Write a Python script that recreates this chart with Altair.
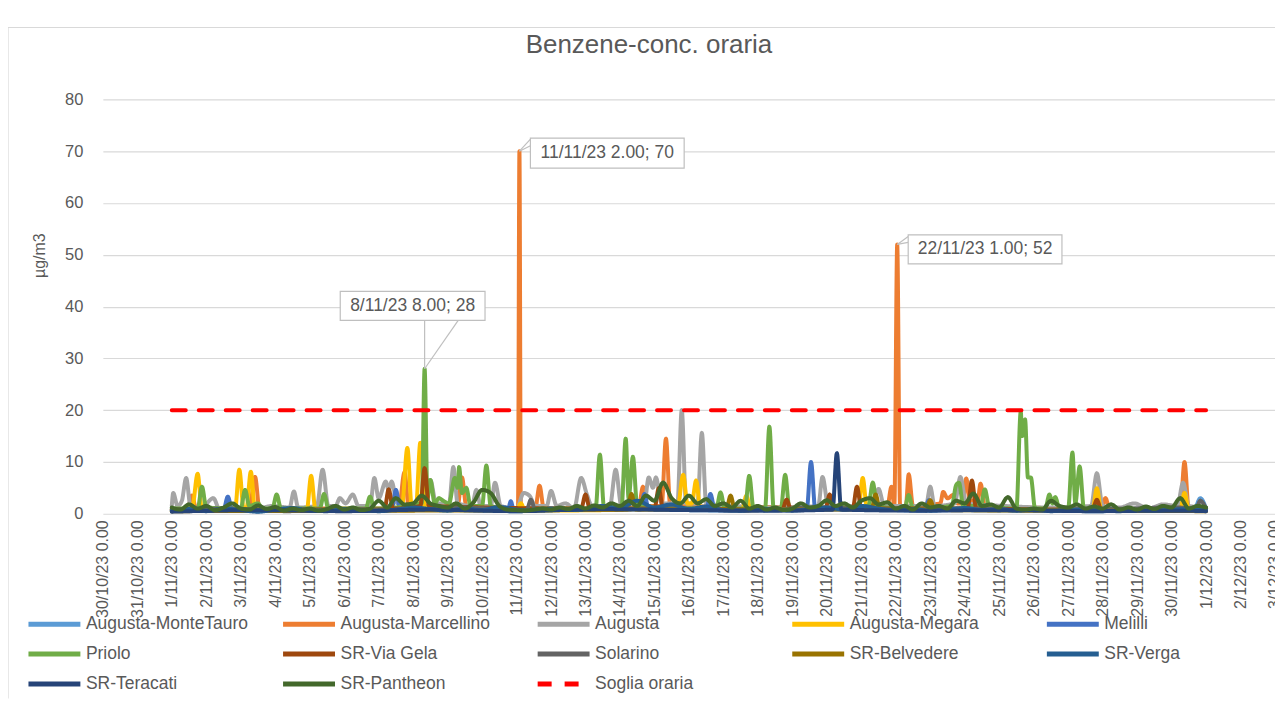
import altair as alt
import pandas as pd

FONT = "Liberation Sans"
GREY_TXT = "#595959"

BASE = pd.Timestamp("2023-11-01 00:00")

chart_title = "Benzene-conc. oraria"
series_names = [
    "Augusta-MonteTauro", "Augusta-Marcellino", "Augusta", "Augusta-Megara", "Melilli",
    "Priolo", "SR-Via Gela", "Solarino", "SR-Belvedere", "SR-Verga",
    "SR-Teracati", "SR-Pantheon",
]
series_colors = [
    "#5B9BD5", "#ED7D31", "#A5A5A5", "#FFC000", "#4472C4",
    "#70AD47", "#9E480E", "#636363", "#997300", "#255E91",
    "#264478", "#43682B",
]
threshold_name = "Soglia oraria"
threshold_color = "#FF0000"
threshold_value = 20
threshold_hours = [0, 720]

# (hour from 1/11/23 0.00, µg/m3)
monte_tauro = [(0, 0.6), (30, 0.9), (60, 0.5), (96, 0.8), (130, 0.6), (170, 1.0), (200, 0.7),
               (240, 0.5), (280, 0.8), (320, 0.9), (360, 0.7), (400, 0.6), (440, 0.8), (480, 0.9),
               (520, 0.6), (560, 0.8), (600, 0.7), (640, 0.5), (680, 0.6), (705, 0.8), (712, 1.0),
               (716, 3.0), (720, 1.0)]
marcellino = [(0, 0.8), (11, 0.9), (14, 3.5), (17, 1), (54, 1), (58, 7.1), (61, 1), (158, 1),
              (162, 8), (165, 1.2), (199, 1.5), (202, 7), (205, 1.5), (241, 1), (242, 70), (243, 1.2),
              (253, 1), (256, 5.4), (259, 1), (325, 1.2), (328, 5.2), (331, 1.5), (341, 1.5),
              (344, 14.5), (347, 1.5), (498, 1.2), (501, 5.2), (503, 1.5), (505, 52), (507, 1.5),
              (511, 1.5), (513, 7.6), (516, 1.5), (535, 2), (537, 4.2), (540, 3), (544, 3.6),
              (547, 2), (551, 2), (553, 6.8), (556, 2.5), (561, 2.5), (563, 5.8), (566, 1.5),
              (647, 1), (650, 3), (653, 0.8), (702, 0.8), (705, 10), (708, 0.8), (720, 0.8)]
augusta = [(0, 1.5), (1, 4), (4, 1.5), (7, 2.5), (10, 6.9), (13, 1.5), (20, 1), (29, 3), (33, 1),
           (50, 1.2), (60, 1), (70, 1.5), (82, 1.2), (85, 4.3), (88, 1.2), (101, 1.5), (105, 8.5),
           (109, 1.5), (114, 1.5), (117, 3), (121, 2), (126, 3.7), (130, 1.5), (138, 1.5),
           (141, 6.9), (144, 3), (149, 6.2), (151, 4.5), (153, 6.2), (157, 2), (170, 1.5),
           (180, 6.5), (184, 2), (193, 2), (196, 9), (199, 2), (209, 1.5), (212, 4.6), (215, 1.5),
           (222, 1.5), (225, 6), (229, 1.5), (240, 1), (245, 4), (249, 3.5), (253, 1.5),
           (261, 1.5), (264, 4.4), (268, 1.5), (274, 2), (280, 1), (285, 6.9), (289, 3.7),
           (293, 1.2), (305, 1.5), (309, 8.5), (313, 1.5), (329, 2), (332, 7), (335, 5), (337, 7),
           (341, 2), (352, 2), (355, 20), (358, 2), (366, 2), (369, 15.6), (372, 2), (390, 1.5),
           (420, 1.2), (450, 1.5), (453, 7.1), (457, 1.5), (488, 1.5), (492, 4.8), (496, 1.5),
           (525, 1.5), (528, 5.2), (531, 1.5), (545, 2), (549, 7.1), (553, 2), (580, 1.5),
           (610, 1.2), (640, 1.5), (644, 7.8), (648, 1.5), (660, 1.2), (670, 2), (680, 1),
           (690, 1.8), (700, 1.5), (704, 6), (708, 1.5), (720, 1.2)]
megara = [(0, 0.5), (14, 0.8), (18, 7.7), (21, 0.8), (44, 0.8), (47, 8.5), (50, 1), (52, 1),
          (55, 8.1), (58, 0.8), (94, 0.8), (97, 7.3), (100, 0.8), (160, 0.8), (164, 12.7),
          (167, 1.5), (170, 1.5), (173, 13.7), (176, 1.5), (240, 0.6), (243, 2), (246, 0.6),
          (352, 1), (356, 7.5), (359, 2), (362, 2), (365, 6.4), (368, 1), (397, 0.8), (400, 3.5),
          (403, 0.8), (478, 1), (481, 6.9), (484, 1), (600, 0.6), (641, 0.8), (644, 4.9),
          (647, 0.8), (702, 0.8), (705, 4), (708, 0.8), (720, 0.6)]
melilli = [(0, 0.8), (36, 0.8), (39, 3.3), (42, 0.8), (100, 0.6), (153, 0.8), (156, 4.6),
           (159, 0.8), (234, 0.8), (236, 2.4), (238, 0.8), (326, 0.8), (329, 3.8), (332, 0.8),
           (372, 0.8), (375, 3.8), (378, 0.8), (442, 0.8), (445, 10), (448, 0.8), (524, 0.8),
           (527, 2.6), (530, 0.8), (620, 0.6), (720, 0.8)]
priolo = [(0, 1), (18, 1), (21, 5.2), (24, 1.2), (48, 1), (51, 4.6), (54, 1.5), (60, 2), (63, 1),
          (70, 1), (73, 3.7), (76, 1), (103, 1), (106, 3.8), (109, 1), (135, 1), (138, 3.3),
          (141, 1), (174, 2), (176, 28), (178, 3), (180, 6.5), (183, 2), (186, 3), (189, 2.5),
          (193, 2), (197, 6.9), (199, 5), (200, 9), (202, 4), (205, 5), (208, 1.5), (216, 1.5),
          (219, 9.3), (222, 1.5), (240, 0.8), (260, 1), (295, 1), (298, 11.4), (301, 1),
          (313, 1), (316, 14.5), (318, 3), (321, 11), (324, 1.5), (379, 1), (382, 4.1), (385, 1),
          (399, 1), (402, 7.3), (405, 1), (413, 1), (416, 16.8), (419, 1), (424, 1), (427, 7.5),
          (430, 1), (485, 1.5), (488, 6), (491, 1.5), (510, 1), (513, 3.6), (516, 1),
          (543, 1.5), (546, 5.5), (548, 6), (551, 1.5), (563, 1.5), (566, 4.7), (569, 1.5),
          (588, 1), (591, 19.7), (592, 15), (594, 18.2), (596, 7), (598, 7), (601, 1), (608, 1),
          (611, 3.7), (613, 2), (615, 3.2), (618, 1), (624, 1), (627, 11.8), (629, 2),
          (632, 9.1), (635, 1), (660, 0.8), (700, 0.8), (720, 1)]
via_gela = [(0, 0.8), (148, 0.8), (151, 4.7), (154, 1), (173, 1.5), (176, 8.8), (179, 1.5),
            (285, 1), (288, 3.7), (291, 1), (336, 1), (339, 4.9), (342, 1), (425, 0.8),
            (428, 2.7), (431, 0.8), (455, 1), (458, 3.7), (461, 1), (474, 1), (477, 5.2),
            (480, 1), (554, 1), (557, 6.4), (560, 1), (641, 0.8), (644, 2.7), (647, 0.8),
            (720, 0.8)]
solarino = [(0, 0.6), (40, 1), (80, 0.5), (120, 0.9), (160, 0.7), (200, 1.2), (247, 0.7),
            (250, 2.7), (253, 0.7), (300, 0.8), (350, 1), (400, 0.6), (450, 1.2), (500, 0.8),
            (550, 1), (600, 0.7), (650, 0.9), (700, 1.2), (713, 1), (716, 2.5), (720, 1)]
belvedere = [(0, 0.5), (317, 0.8), (320, 3.8), (323, 0.8), (386, 0.8), (389, 3.5), (392, 0.8),
             (487, 0.8), (490, 3.7), (493, 0.8), (525, 0.8), (528, 2.6), (531, 0.8), (720, 0.5)]
teracati = [(0, 0.4), (60, 0.7), (120, 0.5), (180, 0.8), (240, 0.5), (300, 0.9), (360, 0.7),
            (420, 0.6), (460, 0.8), (463, 11.7), (466, 0.8), (520, 0.6), (580, 0.7), (640, 0.5),
            (700, 0.6), (720, 0.5)]
# every 12 hours
verga_12h = [0.6, 0.9, 0.5, 1.0, 0.7, 0.4, 0.8, 1.1, 0.6, 0.5, 0.9, 0.7, 0.5, 0.8, 1.2, 0.9,
             0.6, 1.0, 0.7, 1.3, 0.8, 0.6, 1.0, 0.7, 0.9, 1.5, 1.1, 2.5, 1.2, 1.8, 0.9, 1.4,
             0.7, 0.6, 1.0, 0.8, 0.6, 0.9, 1.2, 0.8, 1.5, 1.0, 0.7, 0.9, 0.6, 0.8, 1.1, 0.7,
             0.9, 0.6, 0.8, 0.5, 0.7, 0.9, 0.6, 0.5, 0.7, 0.6, 0.8, 0.9, 0.7]
# every 6 hours
pantheon_6h = [1.2, 0.8, 1.8, 1.0, 1.5, 0.7, 1.2, 2.0, 1.0, 0.8, 1.6, 0.9, 1.3, 0.6, 1.0, 0.7,
               1.0, 0.6, 0.9, 1.5, 0.8, 1.2, 0.7, 1.0, 2.5, 1.2, 3.0, 1.8, 2.0, 3.5, 2.0, 1.5,
               1.2, 2.0, 1.0, 2.2, 4.6, 4.0, 1.5, 0.8, 0.7, 0.6, 0.8, 1.0, 0.8, 1.2, 0.9, 1.5,
               1.0, 1.6, 1.2, 2.0, 1.5, 2.5, 1.5, 3.5, 2.5, 6.0, 3.0, 2.0, 3.5, 2.0, 2.8, 1.5,
               2.0, 1.2, 2.5, 1.0, 1.5, 0.8, 1.2, 0.7, 1.0, 2.0, 1.2, 1.5, 2.6, 1.5, 2.0, 1.2,
               2.5, 3.0, 1.8, 2.2, 1.0, 1.5, 0.8, 2.0, 1.2, 1.5, 1.0, 2.5, 2.0, 3.9, 1.5, 1.8,
               1.2, 3.2, 1.0, 0.8, 1.0, 0.8, 2.5, 1.5, 1.2, 1.8, 1.0, 1.4, 1.0, 1.8, 0.8, 1.2,
               0.8, 1.4, 0.9, 1.5, 1.2, 3.0, 1.0, 1.5, 1.2]

# callouts
ann_hours = [176, 242, 505]
ann_values = [28, 70, 52]


def ts(h):
    return (BASE + pd.Timedelta(hours=h)).strftime("%Y-%m-%dT%H:%M:%S")


series_points = [
    monte_tauro, marcellino, augusta, megara, melilli, priolo, via_gela, solarino, belvedere,
    [(i * 12, v) for i, v in enumerate(verga_12h)],
    teracati,
    [(i * 6, v) for i, v in enumerate(pantheon_6h)],
]

rows = []
for name, pts in zip(series_names, series_points):
    for h, v in pts:
        rows.append({"t": ts(h), "v": v, "s": name})
for h in threshold_hours:
    rows.append({"t": ts(h), "v": threshold_value, "s": threshold_name})
df = pd.DataFrame(rows)

all_names = series_names + [threshold_name]
all_colors = series_colors + [threshold_color]
all_dash = [[1, 0]] * len(series_names) + [[14, 13]]

x_scale = alt.Scale(domain=[alt.DateTime(year=2023, month=10, date=30),
                            alt.DateTime(year=2023, month=12, date=3)], nice=False)
y_scale = alt.Scale(domain=[0, 80], nice=False)

# legend symbol: a 52px line drawn from a 20px layout box
legend = alt.Legend(
    title=None, orient="none", legendX=-77, legendY=513, direction="horizontal", columns=5,
    symbolType="M-1,0H4.2", symbolSize=400, symbolStrokeWidth=5, labelFontSize=17.5,
    labelFont=FONT, labelColor=GREY_TXT, labelLimit=400, gridAlign="all", columnPadding=24,
    rowPadding=7, labelOffset=35, padding=0,
)

lines = alt.Chart(df).mark_line(
    strokeWidth=4, interpolate="monotone", strokeJoin="round", strokeCap="round"
).encode(
    x=alt.X("t:T", scale=x_scale, axis=alt.Axis(
        title=None, format="%-d/%-m/%y %-H.%M", tickCount={"interval": "day", "step": 1},
        labelAngle=-90, labelFontSize=16, labelFont=FONT, labelColor=GREY_TXT, labelPadding=6,
        ticks=False, domain=False, grid=False, labelOverlap=False, labelBound=False,
        labelFlush=False)),
    y=alt.Y("v:Q", scale=y_scale, axis=alt.Axis(
        values=list(range(0, 81, 10)), title="µg/m3", titleFontSize=16, titleFont=FONT,
        titleColor=GREY_TXT, titleFontWeight="normal", titleX=-63, titleY=156,
        titleAlign="center", titleBaseline="middle", titleAngle=-90,
        labelFontSize=16.5, labelFont=FONT, labelColor=GREY_TXT, labelPadding=20,
        ticks=False, domain=False, grid=True, gridColor="#D9D9D9", gridWidth=1.2)),
    color=alt.Color("s:N", scale=alt.Scale(domain=all_names, range=all_colors), legend=legend),
    strokeDash=alt.StrokeDash("s:N", scale=alt.Scale(domain=all_names, range=all_dash),
                              legend=legend),
)

ann_df = pd.DataFrame({
    "t": [ts(h) for h in ann_hours],
    "v": ann_values,
    "label": [f"{(BASE + pd.Timedelta(hours=h)).day}/{(BASE + pd.Timedelta(hours=h)).month}/"
              f"{(BASE + pd.Timedelta(hours=h)).strftime('%y')} "
              f"{(BASE + pd.Timedelta(hours=h)).hour}.00; {v}"
              for h, v in zip(ann_hours, ann_values)],
    "i": [0, 1, 2],
})

# box offset (dx, dy), box width, box height, pointer end offsets
callout_style = [
    (-12, -63, 145, 29, [(0, -49), (34, -49)]),
    (88, 2, 154, 30, [(12, -13), (12, -6)]),
    (88, 5, 154, 29, [(11, -8), (11, -2)]),
]

layers = [lines]
for i, (dx, dy, w, hgt, ptrs) in enumerate(callout_style):
    base = alt.Chart(ann_df).transform_filter(alt.datum.i == i)
    for (px, py) in ptrs:
        layers.append(base.mark_rule(color="#BFBFBF", strokeWidth=1.2,
                                     x2Offset=px, y2Offset=py).encode(
            x=alt.X("t:T", scale=x_scale), y=alt.Y("v:Q", scale=y_scale),
            x2="t:T", y2="v:Q"))
    r = hgt / w
    shape = f"M-1,-{r:.4f}H1V{r:.4f}H-1Z"
    layers.append(base.mark_point(shape=shape, size=w * w, filled=True, fill="white",
                                  stroke="#BFBFBF", strokeWidth=1.2, opacity=1,
                                  xOffset=dx, yOffset=dy).encode(
        x=alt.X("t:T", scale=x_scale), y=alt.Y("v:Q", scale=y_scale)))
    layers.append(base.mark_text(dx=dx, dy=dy, fontSize=17.5, font=FONT, color=GREY_TXT,
                                 align="center", baseline="middle").encode(
        x=alt.X("t:T", scale=x_scale), y=alt.Y("v:Q", scale=y_scale), text="label:N"))

single = pd.DataFrame({"title": [chart_title]})
layers.append(alt.Chart(single).mark_rule(color="#D9D9D9", strokeWidth=1.2).encode(
    x=alt.value(-95), x2=alt.value(1174), y=alt.value(-72)))
layers.append(alt.Chart(single).mark_rule(color="#D9D9D9", strokeWidth=1.2).encode(
    x=alt.value(-95), y=alt.value(-72), y2=alt.value(600)))
layers.append(alt.Chart(single).mark_text(
    fontSize=26, font=FONT, color=GREY_TXT, align="center", baseline="middle").encode(
    x=alt.value(547), y=alt.value(-54), text="title:N"))

chart = alt.layer(*layers).properties(
    width=1174, height=415,
    autosize=alt.AutoSizeParams(type="none"),
    padding={"left": 95, "top": 91, "right": 0, "bottom": 189},
).configure_view(stroke=None)

chart.save("out.html", embed_options={"renderer": "svg", "actions": False})
